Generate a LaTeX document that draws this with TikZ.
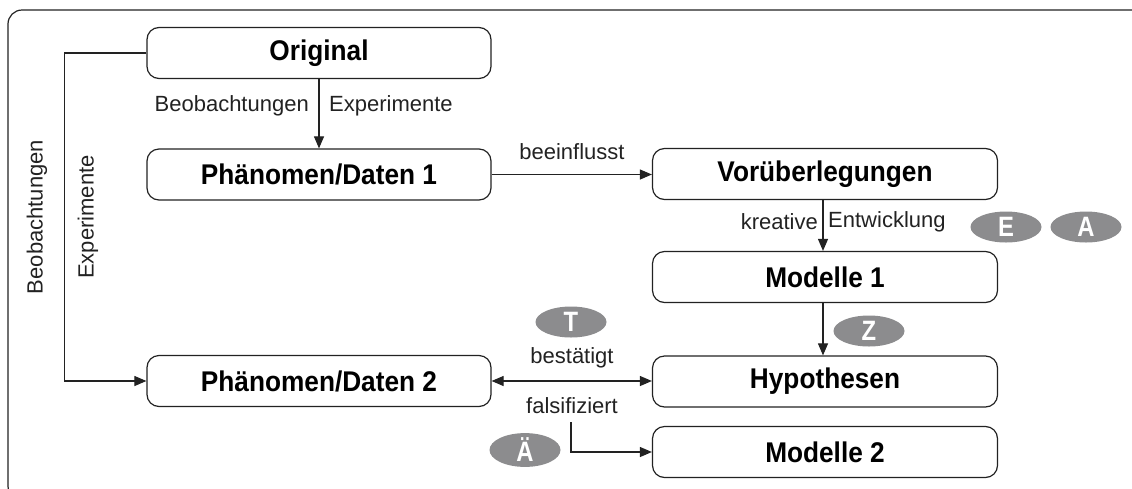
\documentclass[tikz,border=0pt]{standalone}
\usepackage{fontspec}
\setmainfont{Liberation Sans}
\newfontfamily\tagfont[FakeStretch=0.85]{Liberation Sans}
\newfontfamily\boxfont[FakeStretch=0.92]{Liberation Sans}
\usetikzlibrary{arrows.meta,shapes.geometric}
\definecolor{linec}{HTML}{222222}
\definecolor{ellc}{HTML}{8C8C8E}
\tikzset{
  box/.style={draw=linec, line width=1.2pt, rounded corners=12pt, minimum width=344pt, minimum height=51pt, inner sep=0pt, font=\boxfont\fontsize{28.5}{30}\selectfont\bfseries, text=black},
  lbl/.style={inner sep=0pt, font=\fontsize{22}{24}\selectfont, text=linec},
  tag/.style={ellipse, fill=ellc, minimum width=71pt, minimum height=31pt, inner sep=0pt, font=\tagfont\fontsize{28}{30}\selectfont\bfseries, text=white},
  conn/.style={draw=linec, line width=1.1pt},
  arr/.style={conn, -{Triangle[length=12pt,width=10pt]}},
  darr/.style={conn, {Triangle[length=12pt,width=10pt]}-{Triangle[length=12pt,width=10pt]}}
}
\begin{document}
\begin{tikzpicture}[x=1pt,y=-1pt]
\useasboundingbox (0,0) rectangle (1132,488);
\begin{scope}
\clip (0,0) rectangle (1132,488);
\draw[draw=linec, line width=1.2pt, rounded corners=14pt] (8,10) rectangle (1150,500);
\end{scope}

\node[box] (orig) at (319,53) {Original};
\node[box] (pd1) at (319,174.5) {Phänomen/Daten 1};
\node[box, minimum width=345pt] (vor) at (825,174) {Vorüberlegungen};
\node[box, minimum width=345pt] (m1) at (825,277) {Modelle 1};
\node[box, minimum width=345pt] (hyp) at (825,381.5) {Hypothesen};
\node[box] (pd2) at (319,381) {Phänomen/Daten 2};
\node[box, minimum width=345pt] (m2) at (825,452) {Modelle 2};

% connectors
\draw[arr] (orig) -- (pd1);
\draw[arr] (pd1.east) -- (vor.west |- pd1.east);
\draw[arr] ([xshift=-2pt]vor.south) -- ([xshift=-2pt]m1.north);
\draw[arr] ([xshift=-2pt]m1.south) -- ([xshift=-2pt]hyp.north);
\draw[darr] (pd2.east) -- (hyp.west |- pd2.east);
\coordinate (fs) at (571,422);
\draw[arr] (fs) |- (m2.west);
\draw[arr] (orig.west) -- ++(-82,0) |- (pd2.west);

% labels
\node[lbl, anchor=east] (lb1) at (309,106) {Beobachtungen};
\node[lbl, anchor=west] (lb2) at (329,106) {Experimente};
\node[lbl, rotate=90] (lb3) at (37,217) {Beobachtungen};
\node[lbl, rotate=90] (lb4) at (88,217) {Experimente};
\node[lbl] (lb5) at (572,152) {beeinflusst};
\node[lbl, anchor=east] (lb6) at (818,222) {kreative};
\node[lbl, anchor=west] (lb7) at (828,222) {Entwicklung};
\node[lbl] (lb8) at (572,358) {bestätigt};
\node[lbl] (lb9) at (572,406) {falsifiziert};

% tags
\node[tag] (tE) at (1006,227) {E};
\node[tag] (tA) at (1086,227) {A};
\node[tag] (tZ) at (869,331) {Z};
\node[tag] (tT) at (571,322) {T};
\node[tag] (tAe) at (525,450) {Ä};
\end{tikzpicture}
\end{document}
